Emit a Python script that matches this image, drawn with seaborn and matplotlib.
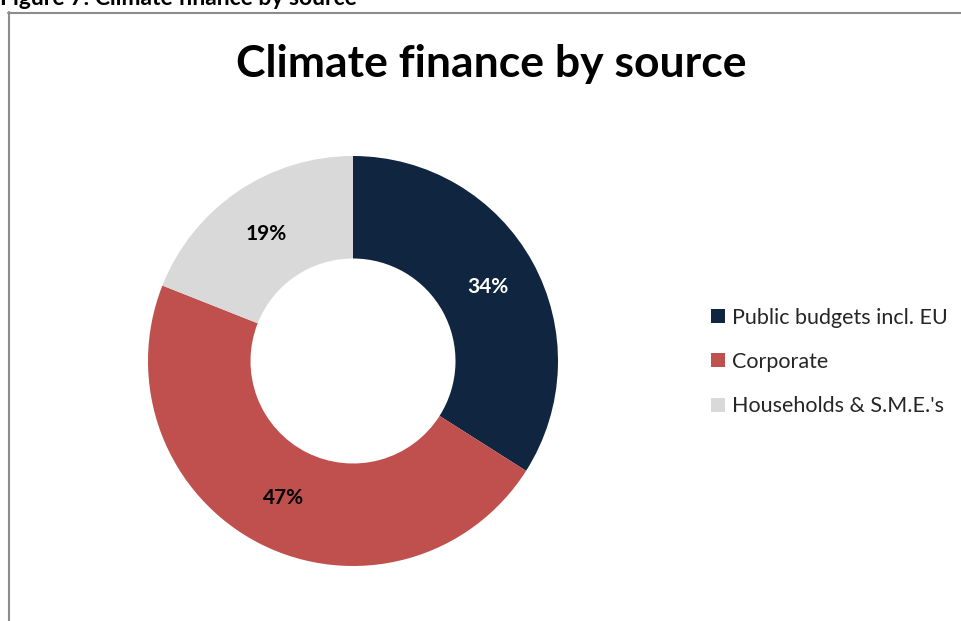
import matplotlib
matplotlib.use("Agg")
import matplotlib.pyplot as plt
from matplotlib.lines import Line2D
import seaborn as sns

categories = ["Public budgets incl. EU", "Corporate", "Households & S.M.E.'s"]
shares = [34, 47, 19]
colors = ["#10253F", "#C0504D", "#D9D9D9"]
label_colors = ["white", "black", "black"]
title = "Climate finance by source"
header = "Figure 7: Climate finance by source"

sns.set_theme(style="white")
plt.rcParams['font.family'] = ['Lato', 'DejaVu Sans']

W, H = 962, 621
fig = plt.figure(figsize=(W / 100, H / 100), dpi=100)
fig.patch.set_facecolor("white")

cx, cy, r = 353, 361, 205
ax = fig.add_axes([(cx - r) / W, (H - cy - r) / H, 2 * r / W, 2 * r / H])
wedges, texts, autotexts = ax.pie(
    shares, colors=colors, startangle=90, counterclock=False,
    radius=1, wedgeprops=dict(width=0.5, edgecolor="white", linewidth=0),
    autopct=lambda p: f"{p:.0f}%", pctdistance=0.75,
    textprops=dict(fontsize=15, fontweight="bold", color="black"))
for t, c in zip(autotexts, label_colors):
    t.set_color(c)
ax.set_xlim(-1, 1)
ax.set_ylim(-1, 1)
ax.set_aspect("equal")
ax.axis("off")

fig.text(491 / W, 1 - 64 / H, title, ha="center", va="center",
         fontsize=32, fontweight="bold", color="black")
fig.text(0, 1 - 5 / H, header, ha="left", va="baseline",
         fontsize=16.5, fontweight="bold", color="black")

handles = [plt.Rectangle((0, 0), 1, 1, facecolor=c, edgecolor="none") for c in colors]
leg = fig.legend(handles, categories, loc="center left",
                 bbox_to_anchor=(692 / W, 1 - 362 / H), frameon=False,
                 fontsize=15.5, handlelength=0.62, handleheight=0.62,
                 handletextpad=0.35, labelspacing=1.12)

fig.add_artist(Line2D([8.5 / W, 8.5 / W], [0, 1 - 12 / H], color="#8C8C8C", lw=1.5))
fig.add_artist(Line2D([8 / W, 1], [1 - 12.5 / H, 1 - 12.5 / H], color="#8C8C8C", lw=1.5))

fig.savefig("out.png", dpi=100)
